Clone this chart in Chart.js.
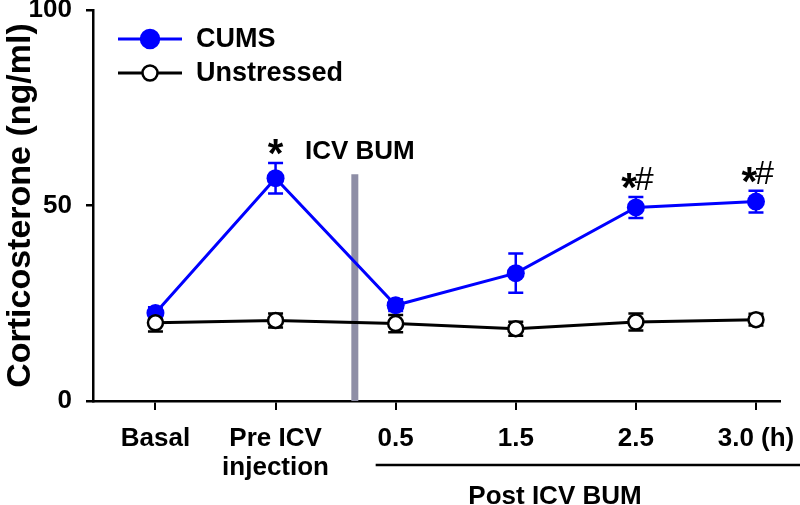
<!DOCTYPE html>
<html>
<head>
    <title>Corticosterone</title>
    <script src="https://cdn.jsdelivr.net/npm/chart.js@4.4.0/dist/chart.umd.min.js"></script>
    <style>
        body { margin: 0; background: #fff; }
    </style>
</head>
<body>
    <canvas id="chart" width="800" height="505"></canvas>
    <script>
        // data
        var xLabels = ['Basal', ['Pre ICV', 'injection'], '0.5', '1.5', '2.5', '3.0 (h)'];
        var xPos = [0, 1, 2, 3, 4, 5];
        var cumsMean = [22.5, 57.0, 24.5, 32.7, 49.5, 51.0];
        var cumsSem = [1.5, 3.9, 1.5, 5.0, 2.7, 2.8];
        var unstressedMean = [20.0, 20.6, 19.8, 18.5, 20.2, 20.8];
        var unstressedSem = [2.2, 1.8, 2.2, 1.8, 2.2, 1.5];
        var yTicks = [0, 50, 100];
        var sigMarks = [{ i: 1, text: '*' }, { i: 4, text: '*#' }, { i: 5, text: '*#' }];
        var icvX = 1.66;     // where BUM was injected (between Pre ICV and 0.5)
        var icvTop = 58;

        var FONT = '"Liberation Sans", Arial, sans-serif';
        var BLUE = '#0000ff';

        function pts(ys) {
            return xPos.map(function (x, i) { return { x: x, y: ys[i] }; });
        }

        // error bars, drawn under the markers
        var errorBars = {
            id: 'errorBars',
            beforeDatasetsDraw: function (chart) {
                var ctx = chart.ctx, xs = chart.scales.x, ys = chart.scales.y;
                chart.data.datasets.forEach(function (ds) {
                    if (!ds.errors) return;
                    ctx.save();
                    ctx.strokeStyle = ds.errorColor;
                    ctx.lineWidth = 2.5;
                    ds.data.forEach(function (p, i) {
                        var px = xs.getPixelForValue(p.x);
                        var top = ys.getPixelForValue(p.y + ds.errors[i]);
                        var bot = ys.getPixelForValue(p.y - ds.errors[i]);
                        ctx.beginPath();
                        ctx.moveTo(px, top); ctx.lineTo(px, bot);
                        ctx.moveTo(px - 7.5, top); ctx.lineTo(px + 7.5, top);
                        ctx.moveTo(px - 7.5, bot); ctx.lineTo(px + 7.5, bot);
                        ctx.stroke();
                    });
                    ctx.restore();
                });
            }
        };

        // legend, significance marks and the group label under the axis
        var extras = {
            id: 'extras',
            afterDraw: function (chart) {
                var ctx = chart.ctx, xs = chart.scales.x, ys = chart.scales.y;
                ctx.save();

                // legend
                var rows = [
                    { y: 39, label: 'CUMS', color: BLUE, fill: BLUE, r: 9 },
                    { y: 73, label: 'Unstressed', color: '#000', fill: '#fff', r: 7.5 }
                ];
                rows.forEach(function (row) {
                    ctx.strokeStyle = row.color;
                    ctx.lineWidth = 3;
                    ctx.beginPath();
                    ctx.moveTo(118, row.y); ctx.lineTo(182, row.y);
                    ctx.stroke();
                    ctx.beginPath();
                    ctx.arc(150, row.y, row.r, 0, Math.PI * 2);
                    ctx.fillStyle = row.fill;
                    ctx.fill();
                    ctx.lineWidth = 2.5;
                    ctx.stroke();
                    ctx.fillStyle = '#000';
                    ctx.font = 'bold 27px ' + FONT;
                    ctx.textAlign = 'left';
                    ctx.textBaseline = 'middle';
                    ctx.fillText(row.label, 196, row.y + 1);
                });

                // * and *# above the CUMS points
                ctx.textBaseline = 'middle';
                sigMarks.forEach(function (m) {
                    var px = xs.getPixelForValue(xPos[m.i]);
                    var py = ys.getPixelForValue(cumsMean[m.i] + cumsSem[m.i]) - 14;
                    if (m.text === '*') {
                        ctx.textAlign = 'center';
                        ctx.font = 'bold 40px ' + FONT;
                        ctx.fillText('*', px, py + 7);
                    } else {
                        ctx.textAlign = 'right';
                        ctx.font = 'bold 40px ' + FONT;
                        ctx.fillText('*', px + 1, py + 7);
                        ctx.textAlign = 'left';
                        ctx.font = '34px ' + FONT;
                        ctx.fillText('#', px - 1, py - 2);
                    }
                });

                // ICV BUM label
                ctx.textAlign = 'center';
                ctx.font = 'bold 26px ' + FONT;
                ctx.fillText('ICV BUM', xs.getPixelForValue(icvX) + 5, ys.getPixelForValue(64) + 1);

                // group line + label
                var lineY = 465;
                ctx.strokeStyle = '#000';
                ctx.lineWidth = 2.5;
                ctx.beginPath();
                ctx.moveTo(xs.getPixelForValue(xPos[2]) - 20, lineY);
                ctx.lineTo(chart.width, lineY);
                ctx.stroke();
                ctx.font = 'bold 26px ' + FONT;
                ctx.fillText('Post ICV BUM', 555, 497);

                ctx.restore();
            }
        };

        var chart = new Chart(document.getElementById('chart').getContext('2d'), {
            type: 'line',
            data: {
                datasets: [{
                    label: 'Unstressed',
                    data: pts(unstressedMean),
                    errors: unstressedSem,
                    errorColor: '#000',
                    borderColor: '#000',
                    borderWidth: 3,
                    pointRadius: 7.5,
                    pointBorderWidth: 2.5,
                    pointBackgroundColor: '#fff',
                    pointBorderColor: '#000',
                    order: 0
                }, {
                    label: 'CUMS',
                    data: pts(cumsMean),
                    errors: cumsSem,
                    errorColor: BLUE,
                    borderColor: BLUE,
                    borderWidth: 3,
                    pointRadius: 9,
                    pointBorderWidth: 0,
                    pointBackgroundColor: BLUE,
                    order: 1
                }, {
                    label: 'ICV',
                    data: [{ x: icvX, y: 0 }, { x: icvX, y: icvTop }],
                    borderColor: '#8e8ea6',
                    borderWidth: 7,
                    borderCapStyle: 'butt',
                    pointRadius: 0,
                    order: 2
                }]
            },
            options: {
                responsive: false,
                animation: false,
                layout: { padding: { left: 0, top: 10, right: 20, bottom: 0 } },
                plugins: {
                    legend: { display: false },
                    tooltip: { enabled: false }
                },
                scales: {
                    x: {
                        type: 'linear',
                        min: -0.52,
                        max: 5.2,
                        afterBuildTicks: function (scale) {
                            scale.ticks = xPos.map(function (v) { return { value: v }; });
                        },
                        afterFit: function (scale) {
                            scale.height = 104;
                            scale.paddingLeft = 0;
                            scale.paddingRight = 0;
                        },
                        border: { color: '#000', width: 2.5 },
                        grid: { drawOnChartArea: false, tickLength: 9, color: '#000', lineWidth: 2 },
                        ticks: {
                            autoSkip: false,
                            maxRotation: 0,
                            padding: 14,
                            color: '#000',
                            font: { family: FONT, size: 26, weight: 'bold', lineHeight: 1.12 },
                            callback: function (value, index) { return xLabels[index]; }
                        }
                    },
                    y: {
                        min: 0,
                        max: 100,
                        afterBuildTicks: function (scale) {
                            scale.ticks = yTicks.map(function (v) { return { value: v }; });
                        },
                        afterFit: function (scale) {
                            scale.width = 93;
                            scale.paddingTop = 0;
                            scale.paddingBottom = 0;
                        },
                        border: { color: '#000', width: 2.5 },
                        grid: { drawOnChartArea: false, tickLength: 7, color: '#000', lineWidth: 2.5 },
                        ticks: {
                            padding: 14,
                            color: '#000',
                            font: { family: FONT, size: 26, weight: 'bold' }
                        },
                        title: {
                            display: true,
                            text: 'Corticosterone (ng/ml)',
                            color: '#000',
                            padding: { top: 0, bottom: 0 },
                            font: { family: FONT, size: 34, weight: 'bold' }
                        }
                    }
                }
            },
            plugins: [errorBars, extras]
        });
    </script>
</body>
</html>
